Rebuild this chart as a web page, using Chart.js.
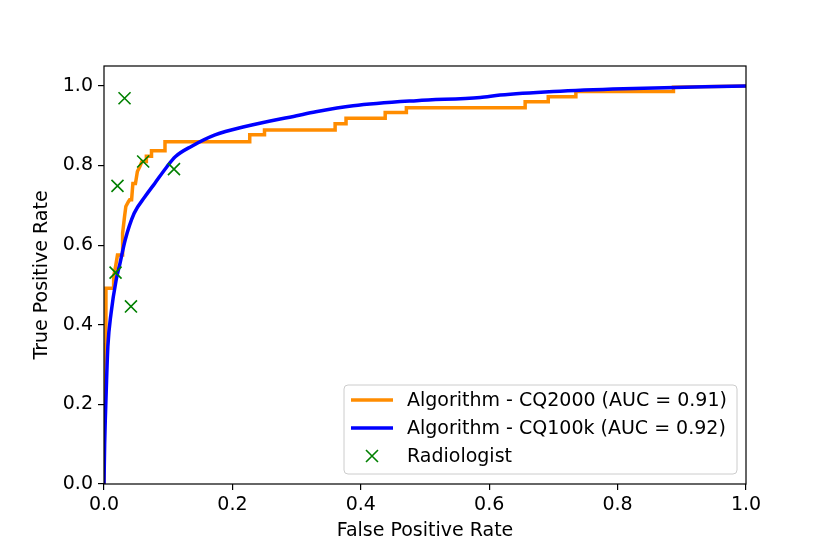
<!DOCTYPE html>
<html>
<head>
<meta charset="utf-8">
<script src="https://cdn.jsdelivr.net/npm/chart.js@4/dist/chart.umd.min.js"></script>
<style>
  html, body { margin: 0; padding: 0; background: #fff; }
  #wrap { width: 830px; height: 554px; }
</style>
</head>
<body>
<div id="wrap"><canvas id="rocChart" width="830" height="554"></canvas></div>
<script>
// ROC curve for CQ2000 (step curve, corner points)
const cq2000Fpr = [0, 0, 0.002, 0.003, 0.003, 0.015, 0.015, 0.018, 0.021, 0.029, 0.029, 0.032, 0.034, 0.038, 0.040, 0.043, 0.045, 0.049, 0.052, 0.056, 0.059, 0.066, 0.066, 0.074, 0.074, 0.095, 0.095, 0.227, 0.227, 0.250, 0.250, 0.360, 0.360, 0.377, 0.377, 0.438, 0.438, 0.471, 0.471, 0.656, 0.656, 0.692, 0.692, 0.735, 0.735, 0.887, 0.887, 1.0];
const cq2000Tpr = [0, 0.29, 0.35, 0.45, 0.492, 0.492, 0.52, 0.546, 0.575, 0.575, 0.63, 0.672, 0.697, 0.709, 0.714, 0.714, 0.755, 0.755, 0.785, 0.798, 0.81, 0.81, 0.823, 0.823, 0.837, 0.837, 0.86, 0.86, 0.877, 0.877, 0.889, 0.889, 0.905, 0.905, 0.919, 0.919, 0.933, 0.933, 0.945, 0.945, 0.96, 0.96, 0.973, 0.973, 0.986, 0.986, 0.997, 1.0];

// ROC curve for CQ100k
const cq100kFpr = [0, 0.001, 0.002, 0.004, 0.006, 0.011, 0.019, 0.025, 0.033, 0.047, 0.064, 0.079, 0.098, 0.111, 0.136, 0.173, 0.220, 0.300, 0.330, 0.388, 0.487, 0.586, 0.617, 0.700, 0.809, 1.0];
const cq100kTpr = [0, 0.10, 0.16, 0.261, 0.345, 0.429, 0.513, 0.555, 0.613, 0.68, 0.722, 0.755, 0.797, 0.822, 0.848, 0.877, 0.898, 0.925, 0.935, 0.95, 0.963, 0.971, 0.977, 0.986, 0.993, 1.0];

// radiologist operating points
const radFpr = [0.032, 0.061, 0.021, 0.109, 0.018, 0.042];
const radTpr = [0.969, 0.810, 0.749, 0.791, 0.531, 0.446];

const xTicks = [0, 0.2, 0.4, 0.6, 0.8, 1.0];
const yTicks = [0, 0.2, 0.4, 0.6, 0.8, 1.0];

const labels = ['Algorithm - CQ2000 (AUC = 0.91)', 'Algorithm - CQ100k (AUC = 0.92)', 'Radiologist'];

const FONT = 'DejaVu Sans';

function toPoints(xs, ys) {
    return xs.map((x, i) => ({ x: x, y: ys[i] }));
}

// frame around the plot + matplotlib-like legend box
const framePlugin = {
    id: 'frame',
    afterDatasetsDraw(chart) {
        const { ctx, chartArea: a } = chart;
        ctx.save();
        ctx.strokeStyle = '#000';
        ctx.lineWidth = 1.2;
        ctx.strokeRect(a.left, a.top, a.right - a.left, a.bottom - a.top);

        // legend
        const bx = 344, by = 385, bw = 393, bh = 89, r = 4;
        ctx.beginPath();
        ctx.moveTo(bx + r, by);
        ctx.arcTo(bx + bw, by, bx + bw, by + bh, r);
        ctx.arcTo(bx + bw, by + bh, bx, by + bh, r);
        ctx.arcTo(bx, by + bh, bx, by, r);
        ctx.arcTo(bx, by, bx + bw, by, r);
        ctx.closePath();
        ctx.fillStyle = 'rgba(255,255,255,0.8)';
        ctx.fill();
        ctx.strokeStyle = '#cccccc';
        ctx.lineWidth = 1;
        ctx.stroke();

        const rowY = [400, 428, 456];
        ctx.font = '19px "' + FONT + '"';
        ctx.textBaseline = 'middle';
        ctx.textAlign = 'left';
        chart.data.datasets.forEach((ds, i) => {
            const y = rowY[i];
            ctx.strokeStyle = ds.borderColor;
            if (ds.showLine) {
                ctx.lineWidth = ds.borderWidth;
                ctx.beginPath();
                ctx.moveTo(351, y);
                ctx.lineTo(393, y);
                ctx.stroke();
            } else {
                ctx.lineWidth = 1.6;
                ctx.beginPath();
                ctx.moveTo(366, y - 6); ctx.lineTo(378, y + 6);
                ctx.moveTo(378, y - 6); ctx.lineTo(366, y + 6);
                ctx.stroke();
            }
            ctx.fillStyle = '#000';
            ctx.fillText(ds.label, 407, y + 1);
        });
        ctx.restore();
    }
};

const ctx = document.getElementById('rocChart').getContext('2d');
const rocChart = new Chart(ctx, {
    type: 'scatter',
    data: {
        datasets: [
            {
                label: labels[0],
                data: toPoints(cq2000Fpr, cq2000Tpr),
                showLine: true,
                borderColor: '#ff8c00',
                borderWidth: 3.5,
                pointRadius: 0,
                tension: 0,
                order: 3
            },
            {
                label: labels[1],
                data: toPoints(cq100kFpr, cq100kTpr),
                showLine: true,
                borderColor: '#0000ff',
                borderWidth: 3.5,
                pointRadius: 0,
                cubicInterpolationMode: 'monotone',
                tension: 0.4,
                order: 2
            },
            {
                label: labels[2],
                data: toPoints(radFpr, radTpr),
                showLine: false,
                pointStyle: 'crossRot',
                pointRadius: 8.5,
                borderColor: '#008000',
                pointBorderWidth: 1.6,
                order: 1
            }
        ]
    },
    options: {
        responsive: false,
        animation: false,
        devicePixelRatio: 1,
        layout: { padding: { left: 0, top: 66, right: 84, bottom: 0 } },
        plugins: {
            legend: { display: false },
            tooltip: { enabled: false }
        },
        scales: {
            x: {
                type: 'linear',
                min: 0,
                max: 1,
                afterBuildTicks: scale => { scale.ticks = xTicks.map(v => ({ value: v })); },
                afterFit: scale => { scale.height = 70; },
                border: { display: false },
                grid: { drawOnChartArea: false, drawTicks: true, tickLength: 6, color: '#000', lineWidth: 1.2 },
                ticks: {
                    padding: 4,
                    color: '#000',
                    font: { family: FONT, size: 19 },
                    callback: v => v.toFixed(1)
                },
                title: {
                    display: true,
                    text: 'False Positive Rate',
                    color: '#000',
                    font: { family: FONT, size: 19 },
                    padding: { top: 0, bottom: 11.6 }
                }
            },
            y: {
                type: 'linear',
                min: 0,
                max: 1.05,
                afterBuildTicks: scale => { scale.ticks = yTicks.map(v => ({ value: v })); },
                afterFit: scale => { scale.width = 104; },
                border: { display: false },
                grid: { drawOnChartArea: false, drawTicks: true, tickLength: 6, color: '#000', lineWidth: 1.2 },
                ticks: {
                    padding: 5,
                    color: '#000',
                    font: { family: FONT, size: 19 },
                    callback: v => v.toFixed(1)
                },
                title: {
                    display: true,
                    text: 'True Positive Rate',
                    color: '#000',
                    font: { family: FONT, size: 19 },
                    padding: { top: 30.6, bottom: 0 }
                }
            }
        }
    },
    plugins: [framePlugin]
});
</script>
</body>
</html>
